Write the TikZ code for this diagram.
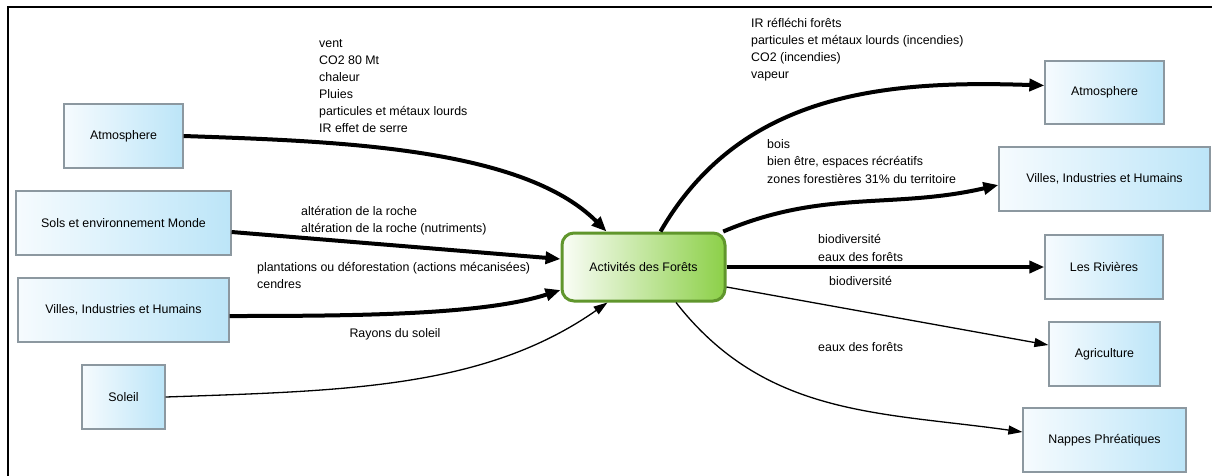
\documentclass[tikz,border=0pt]{standalone}
\usepackage{fontspec}
\setmainfont{Liberation Sans}
\usetikzlibrary{arrows.meta}
\definecolor{boxleft}{RGB}{246,251,254}
\definecolor{boxright}{RGB}{188,229,248}
\definecolor{boxline}{RGB}{140,152,160}
\definecolor{grleft}{RGB}{250,253,247}
\definecolor{grright}{RGB}{140,208,72}
\definecolor{grline}{RGB}{96,150,44}
\begin{document}
\begin{tikzpicture}[x=1pt,y=-1pt,
  txt/.style={font=\fontsize{12.4}{17}\selectfont},
  box/.style={txt, draw=boxline, line width=1.3pt, left color=boxleft, right color=boxright, minimum height=64pt, inner sep=0pt},
  hub/.style={txt, draw=grline, line width=3pt, rounded corners=12pt, left color=grleft, right color=grright, minimum width=163pt, minimum height=68pt, inner sep=0pt},
  lbl/.style={txt, inner sep=0pt, align=left},
  heavy/.style={line width=4pt, -{Triangle[length=15pt,width=12pt]}},
  light/.style={line width=1.3pt, -{Triangle[length=14pt,width=9pt]}},
]
\useasboundingbox (0,0) rectangle (1212,475);
\clip (0,0) rectangle (1212,475);
\fill[white] (0,0) rectangle (1212,475);
\draw[line width=2pt] (8,490) -- (8,7) -- (1230,7);

% left boxes
\node[box, minimum width=119pt] (atmL) at (123.5,136) {Atmosphere};
\node[box, minimum width=215pt] (sols) at (123.5,223) {Sols et environnement Monde};
\node[box, minimum width=211pt] (villesL) at (123.5,310) {Villes, Industries et Humains};
\node[box, minimum width=83pt] (soleil) at (123.5,397) {Soleil};
% hub
\node[hub] (ctr) at (643.5,267) {Activités des Forêts};
% right boxes
\node[box, minimum width=119pt, minimum height=63pt] (atmR) at (1104.5,92.5) {Atmosphere};
\node[box, minimum width=211pt] (villesR) at (1104.5,179) {Villes, Industries et Humains};
\node[box, minimum width=118pt] (riv) at (1104,267) {Les Rivières};
\node[box, minimum width=111pt] (agri) at (1104.5,354) {Agriculture};
\node[box, minimum width=163pt] (nap) at (1104.5,440) {Nappes Phréatiques};

% incoming connectors
\draw[heavy] (atmL.east) to[out=-2,in=135,out distance=150pt,in distance=120pt] ([xshift=-37pt]ctr.north);
\draw[heavy] ([yshift=-9pt]sols.east) -- ([yshift=8pt]ctr.west);
\draw[heavy] ([yshift=-6pt]villesL.east) to[out=0,in=198,out distance=130pt,in distance=80pt] ([yshift=-23pt]ctr.west);
\draw[light] (soleil.east) to[out=2,in=215,out distance=180pt,in distance=150pt] ([xshift=-36pt]ctr.south);

% outgoing connectors
\draw[heavy] ([xshift=17pt]ctr.north) to[out=60,in=178] ([yshift=7pt]atmR.west);
\draw[heavy] (ctr.24) to[out=23,in=193] ([yshift=-6pt]villesR.west);
\draw[heavy] (ctr.east) -- (ctr.east -| riv.west);
\draw[light] ([yshift=-20pt]ctr.east) -- ([yshift=9pt]agri.west);
\draw[light] ([xshift=32.5pt]ctr.south) to[out=-52,in=172] ([yshift=8pt]nap.west);

% labels
\node[lbl, anchor=north west] (lbA) at (319,35) {\strut vent\\CO2 80 Mt\\chaleur\\Pluies\\particules et métaux lourds\\IR effet de serre};
\node[lbl, anchor=north west] (lbB) at (301,203) {\strut altération de la roche\\altération de la roche (nutriments)};
\node[lbl, anchor=north west] (lbC) at (257,259) {\strut plantations ou déforestation (actions mécanisées)\\cendres};
\node[lbl, anchor=base] (lbD) at (395,337) {Rayons du soleil};
\node[lbl, anchor=north west] (lbE) at (751,15) {\strut IR réfléchi forêts\\particules et métaux lourds (incendies)\\CO2 (incendies)\\vapeur};
\node[lbl, anchor=north west] (lbF) at (767,136) {\strut bois\\[0.5pt]bien être, espaces récréatifs\\[0.5pt]zones forestières 31\% du territoire};
\node[lbl, anchor=north west] (lbG) at (818,231) {\strut biodiversité\\[1pt]eaux des forêts};
\node[lbl, anchor=base west] (lbH) at (829,285) {biodiversité};
\node[lbl, anchor=base west] (lbI) at (818,351) {eaux des forêts};
\end{tikzpicture}
\end{document}
